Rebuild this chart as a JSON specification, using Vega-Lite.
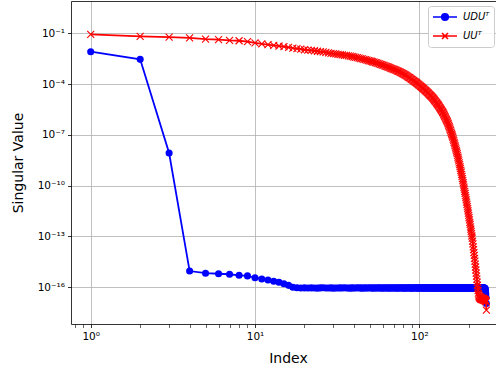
{
  "$schema": "https://vega.github.io/schema/vega-lite/v6.json",
  "width": 425,
  "height": 323,
  "autosize": {"type": "none"},
  "padding": {"left": 71, "top": 1, "right": 0, "bottom": 42},
  "background": "white",
  "config": {"view": {"stroke": null}, "font": "DejaVu Sans"},
  "datasets": {
    "udu": [
      {"k":1,"v":0.0082},{"k":2,"v":0.0029},{"k":3,"v":8.5e-9},{"k":4,"v":9.1e-16},{"k":5,"v":6.8e-16},
      {"k":6,"v":6.3e-16},{"k":7,"v":5.9e-16},{"k":8,"v":5.1e-16},{"k":9,"v":4.7e-16},{"k":10,"v":3.7e-16},
      {"k":11,"v":3.1e-16},{"k":12,"v":2.7e-16},{"k":13,"v":2.3e-16},{"k":14,"v":2.0e-16},{"k":15,"v":1.6e-16},
      {"k":16,"v":1.3e-16},{"k":17,"v":1.0e-16},{"k":18,"v":9.3e-17},{"k":19,"v":9.1e-17},{"k":20,"v":9.2e-17},
      {"k":21,"v":9.0e-17},{"k":22,"v":9.2e-17},{"k":23,"v":9.1e-17},{"k":24,"v":8.9e-17},{"k":25,"v":9.2e-17},
      {"k":26,"v":9.3e-17},{"k":27,"v":9.0e-17},{"k":28,"v":9.1e-17},{"k":29,"v":9.2e-17},{"k":30,"v":8.9e-17},
      {"k":31,"v":9.1e-17},{"k":32,"v":9.0e-17},{"k":33,"v":9.2e-17},{"k":34,"v":9.1e-17},{"k":35,"v":9.3e-17},
      {"k":36,"v":9.0e-17},{"k":37,"v":9.1e-17},{"k":38,"v":8.9e-17},{"k":39,"v":9.2e-17},{"k":40,"v":9.0e-17},
      {"k":41,"v":9.1e-17},{"k":42,"v":9.3e-17},{"k":43,"v":9.0e-17},{"k":44,"v":9.2e-17},{"k":45,"v":8.9e-17},
      {"k":46,"v":9.1e-17},{"k":47,"v":9.2e-17},{"k":48,"v":9.0e-17},{"k":49,"v":9.1e-17},{"k":50,"v":9.3e-17},
      {"k":51,"v":9.0e-17},{"k":52,"v":8.9e-17},{"k":53,"v":9.2e-17},{"k":54,"v":9.1e-17},{"k":55,"v":9.0e-17},
      {"k":56,"v":9.2e-17},{"k":57,"v":9.1e-17},{"k":58,"v":9.3e-17},{"k":59,"v":8.9e-17},{"k":60,"v":9.0e-17},
      {"k":61,"v":9.2e-17},{"k":62,"v":9.1e-17},{"k":63,"v":9.0e-17},{"k":64,"v":9.2e-17},{"k":65,"v":9.1e-17},
      {"k":66,"v":8.9e-17},{"k":67,"v":9.3e-17},{"k":68,"v":9.0e-17},{"k":69,"v":9.1e-17},{"k":70,"v":9.2e-17},
      {"k":71,"v":9.0e-17},{"k":72,"v":9.1e-17},{"k":73,"v":9.2e-17},{"k":74,"v":8.9e-17},{"k":75,"v":9.1e-17},
      {"k":76,"v":9.3e-17},{"k":77,"v":9.0e-17},{"k":78,"v":9.2e-17},{"k":79,"v":9.1e-17},{"k":80,"v":9.0e-17},
      {"k":81,"v":9.2e-17},{"k":82,"v":8.9e-17},{"k":83,"v":9.1e-17},{"k":84,"v":9.0e-17},{"k":85,"v":9.3e-17},
      {"k":86,"v":9.1e-17},{"k":87,"v":9.2e-17},{"k":88,"v":9.0e-17},{"k":89,"v":9.1e-17},{"k":90,"v":8.9e-17},
      {"k":91,"v":9.2e-17},{"k":92,"v":9.0e-17},{"k":93,"v":9.1e-17},{"k":94,"v":9.3e-17},{"k":95,"v":9.0e-17},
      {"k":96,"v":9.2e-17},{"k":97,"v":9.1e-17},{"k":98,"v":8.9e-17},{"k":99,"v":9.0e-17},{"k":100,"v":9.2e-17},
      {"k":101,"v":9.1e-17},{"k":102,"v":9.0e-17},{"k":103,"v":9.3e-17},{"k":104,"v":9.1e-17},{"k":105,"v":8.9e-17},
      {"k":106,"v":9.2e-17},{"k":107,"v":9.0e-17},{"k":108,"v":9.1e-17},{"k":109,"v":9.2e-17},{"k":110,"v":9.0e-17},
      {"k":111,"v":9.1e-17},{"k":112,"v":9.3e-17},{"k":113,"v":8.9e-17},{"k":114,"v":9.0e-17},{"k":115,"v":9.2e-17},
      {"k":116,"v":9.1e-17},{"k":117,"v":9.0e-17},{"k":118,"v":9.2e-17},{"k":119,"v":9.1e-17},{"k":120,"v":8.9e-17},
      {"k":121,"v":9.3e-17},{"k":122,"v":9.0e-17},{"k":123,"v":9.1e-17},{"k":124,"v":9.2e-17},{"k":125,"v":9.0e-17},
      {"k":126,"v":9.1e-17},{"k":127,"v":8.9e-17},{"k":128,"v":9.2e-17},{"k":129,"v":9.0e-17},{"k":130,"v":9.3e-17},
      {"k":131,"v":9.1e-17},{"k":132,"v":9.0e-17},{"k":133,"v":9.2e-17},{"k":134,"v":9.1e-17},{"k":135,"v":8.9e-17},
      {"k":136,"v":9.0e-17},{"k":137,"v":9.2e-17},{"k":138,"v":9.1e-17},{"k":139,"v":9.3e-17},{"k":140,"v":9.0e-17},
      {"k":141,"v":9.1e-17},{"k":142,"v":9.2e-17},{"k":143,"v":8.9e-17},{"k":144,"v":9.0e-17},{"k":145,"v":9.1e-17},
      {"k":146,"v":9.2e-17},{"k":147,"v":9.0e-17},{"k":148,"v":9.3e-17},{"k":149,"v":9.1e-17},{"k":150,"v":8.9e-17},
      {"k":151,"v":9.2e-17},{"k":152,"v":9.0e-17},{"k":153,"v":9.1e-17},{"k":154,"v":9.2e-17},{"k":155,"v":9.0e-17},
      {"k":156,"v":9.1e-17},{"k":157,"v":9.3e-17},{"k":158,"v":8.9e-17},{"k":159,"v":9.0e-17},{"k":160,"v":9.2e-17},
      {"k":161,"v":9.1e-17},{"k":162,"v":9.0e-17},{"k":163,"v":9.2e-17},{"k":164,"v":8.9e-17},{"k":165,"v":9.1e-17},
      {"k":166,"v":9.3e-17},{"k":167,"v":9.0e-17},{"k":168,"v":9.1e-17},{"k":169,"v":9.2e-17},{"k":170,"v":9.0e-17},
      {"k":171,"v":9.1e-17},{"k":172,"v":8.9e-17},{"k":173,"v":9.2e-17},{"k":174,"v":9.0e-17},{"k":175,"v":9.3e-17},
      {"k":176,"v":9.1e-17},{"k":177,"v":9.0e-17},{"k":178,"v":9.2e-17},{"k":179,"v":9.1e-17},{"k":180,"v":8.9e-17},
      {"k":181,"v":9.0e-17},{"k":182,"v":9.2e-17},{"k":183,"v":9.1e-17},{"k":184,"v":9.3e-17},{"k":185,"v":9.0e-17},
      {"k":186,"v":9.1e-17},{"k":187,"v":9.2e-17},{"k":188,"v":8.9e-17},{"k":189,"v":9.0e-17},{"k":190,"v":9.1e-17},
      {"k":191,"v":9.2e-17},{"k":192,"v":9.0e-17},{"k":193,"v":9.3e-17},{"k":194,"v":9.1e-17},{"k":195,"v":8.9e-17},
      {"k":196,"v":9.2e-17},{"k":197,"v":9.0e-17},{"k":198,"v":9.1e-17},{"k":199,"v":9.2e-17},{"k":200,"v":9.0e-17},
      {"k":201,"v":9.1e-17},{"k":202,"v":9.3e-17},{"k":203,"v":8.9e-17},{"k":204,"v":9.0e-17},{"k":205,"v":9.2e-17},
      {"k":206,"v":9.1e-17},{"k":207,"v":9.0e-17},{"k":208,"v":9.2e-17},{"k":209,"v":8.9e-17},{"k":210,"v":9.1e-17},
      {"k":211,"v":9.3e-17},{"k":212,"v":9.0e-17},{"k":213,"v":9.1e-17},{"k":214,"v":9.2e-17},{"k":215,"v":9.0e-17},
      {"k":216,"v":9.1e-17},{"k":217,"v":8.9e-17},{"k":218,"v":9.2e-17},{"k":219,"v":9.0e-17},{"k":220,"v":9.3e-17},
      {"k":221,"v":9.1e-17},{"k":222,"v":9.0e-17},{"k":223,"v":9.2e-17},{"k":224,"v":9.1e-17},{"k":225,"v":8.9e-17},
      {"k":226,"v":9.0e-17},{"k":227,"v":9.2e-17},{"k":228,"v":9.1e-17},{"k":229,"v":9.3e-17},{"k":230,"v":9.0e-17},
      {"k":231,"v":9.1e-17},{"k":232,"v":9.2e-17},{"k":233,"v":8.9e-17},{"k":234,"v":9.0e-17},{"k":235,"v":9.1e-17},
      {"k":236,"v":9.2e-17},{"k":237,"v":9.0e-17},{"k":238,"v":9.3e-17},{"k":239,"v":9.1e-17},{"k":240,"v":8.9e-17},
      {"k":241,"v":9.2e-17},{"k":242,"v":9.0e-17},{"k":243,"v":9.1e-17},{"k":244,"v":9.2e-17},{"k":245,"v":9.0e-17},
      {"k":246,"v":9.1e-17},{"k":247,"v":9.3e-17},{"k":248,"v":8.9e-17},{"k":249,"v":9.0e-17},{"k":250,"v":9.0e-17},
      {"k":251,"v":8.7e-17},{"k":252,"v":8.1e-17},{"k":253,"v":6.0e-17},{"k":254,"v":4.0e-17},{"k":255,"v":2.5e-17},
      {"k":256,"v":1.1e-17}
    ],
    "uu": [
      {"k":1,"v":0.0871},{"k":2,"v":0.0661},{"k":3,"v":0.0603},{"k":4,"v":0.0537},{"k":5,"v":0.0457},
      {"k":6,"v":0.0427},{"k":7,"v":0.0380},{"k":8,"v":0.0363},{"k":9,"v":0.0324},{"k":10,"v":0.0275},
      {"k":11,"v":0.0240},{"k":12,"v":0.0214},{"k":13,"v":0.0195},{"k":14,"v":0.0178},{"k":15,"v":0.0162},
      {"k":16,"v":0.0148},{"k":17,"v":0.0135},{"k":18,"v":0.0126},{"k":19,"v":0.0115},{"k":20,"v":0.0107},
      {"k":21,"v":0.0102},{"k":22,"v":0.00977},{"k":23,"v":0.00933},{"k":24,"v":0.00871},{"k":25,"v":0.00832},
      {"k":26,"v":0.00794},{"k":27,"v":0.00741},{"k":28,"v":0.00708},{"k":29,"v":0.00661},{"k":30,"v":0.00631},
      {"k":31,"v":0.00603},{"k":32,"v":0.00575},{"k":33,"v":0.00550},{"k":34,"v":0.00525},{"k":35,"v":0.00501},
      {"k":36,"v":0.00490},{"k":37,"v":0.00468},{"k":38,"v":0.00447},{"k":39,"v":0.00427},{"k":40,"v":0.00398},
      {"k":41,"v":0.00380},{"k":42,"v":0.00363},{"k":43,"v":0.00347},{"k":44,"v":0.00324},{"k":45,"v":0.00309},
      {"k":46,"v":0.00288},{"k":47,"v":0.00275},{"k":48,"v":0.00257},{"k":49,"v":0.00245},{"k":50,"v":0.00234},
      {"k":51,"v":0.00224},{"k":52,"v":0.00209},{"k":53,"v":0.00200},{"k":54,"v":0.00186},{"k":55,"v":0.00178},
      {"k":56,"v":0.00166},{"k":57,"v":0.00158},{"k":58,"v":0.00148},{"k":59,"v":0.00141},{"k":60,"v":0.00132},
      {"k":61,"v":0.00126},{"k":62,"v":0.00117},{"k":63,"v":0.00112},{"k":64,"v":0.00105},{"k":65,"v":0.00100},
      {"k":66,"v":9.33e-4},{"k":67,"v":8.91e-4},{"k":68,"v":8.32e-4},{"k":69,"v":7.94e-4},{"k":70,"v":7.41e-4},
      {"k":71,"v":7.08e-4},{"k":72,"v":6.61e-4},{"k":73,"v":6.31e-4},{"k":74,"v":5.89e-4},{"k":75,"v":5.62e-4},
      {"k":76,"v":5.25e-4},{"k":77,"v":4.90e-4},{"k":78,"v":4.57e-4},{"k":79,"v":4.27e-4},{"k":80,"v":3.98e-4},
      {"k":81,"v":3.72e-4},{"k":82,"v":3.47e-4},{"k":83,"v":3.24e-4},{"k":84,"v":3.02e-4},{"k":85,"v":2.75e-4},
      {"k":86,"v":2.57e-4},{"k":87,"v":2.40e-4},{"k":88,"v":2.24e-4},{"k":89,"v":2.04e-4},{"k":90,"v":1.91e-4},
      {"k":91,"v":1.78e-4},{"k":92,"v":1.62e-4},{"k":93,"v":1.51e-4},{"k":94,"v":1.38e-4},{"k":95,"v":1.29e-4},
      {"k":96,"v":1.20e-4},{"k":97,"v":1.10e-4},{"k":98,"v":1.02e-4},{"k":99,"v":9.33e-5},{"k":100,"v":8.71e-5},
      {"k":101,"v":8.13e-5},{"k":102,"v":7.41e-5},{"k":103,"v":6.92e-5},{"k":104,"v":6.31e-5},{"k":105,"v":5.75e-5},
      {"k":106,"v":5.37e-5},{"k":107,"v":4.90e-5},{"k":108,"v":4.57e-5},{"k":109,"v":4.17e-5},{"k":110,"v":3.89e-5},
      {"k":111,"v":3.55e-5},{"k":112,"v":3.24e-5},{"k":113,"v":3.02e-5},{"k":114,"v":2.75e-5},{"k":115,"v":2.51e-5},
      {"k":116,"v":2.34e-5},{"k":117,"v":2.14e-5},{"k":118,"v":1.95e-5},{"k":119,"v":1.82e-5},{"k":120,"v":1.66e-5},
      {"k":121,"v":1.51e-5},{"k":122,"v":1.35e-5},{"k":123,"v":1.23e-5},{"k":124,"v":1.10e-5},{"k":125,"v":1.00e-5},
      {"k":126,"v":9.12e-6},{"k":127,"v":8.13e-6},{"k":128,"v":7.41e-6},{"k":129,"v":6.61e-6},{"k":130,"v":6.03e-6},
      {"k":131,"v":5.37e-6},{"k":132,"v":4.79e-6},{"k":133,"v":4.27e-6},{"k":134,"v":3.80e-6},{"k":135,"v":3.39e-6},
      {"k":136,"v":3.02e-6},{"k":137,"v":2.69e-6},{"k":138,"v":2.40e-6},{"k":139,"v":2.14e-6},{"k":140,"v":1.91e-6},
      {"k":141,"v":1.66e-6},{"k":142,"v":1.41e-6},{"k":143,"v":1.23e-6},{"k":144,"v":1.07e-6},{"k":145,"v":9.12e-7},
      {"k":146,"v":7.94e-7},{"k":147,"v":6.92e-7},{"k":148,"v":6.03e-7},{"k":149,"v":5.13e-7},{"k":150,"v":4.47e-7},
      {"k":151,"v":3.72e-7},{"k":152,"v":3.09e-7},{"k":153,"v":2.57e-7},{"k":154,"v":2.14e-7},{"k":155,"v":1.78e-7},
      {"k":156,"v":1.48e-7},{"k":157,"v":1.23e-7},{"k":158,"v":1.02e-7},{"k":159,"v":8.51e-8},{"k":160,"v":7.08e-8},
      {"k":161,"v":5.62e-8},{"k":162,"v":4.57e-8},{"k":163,"v":3.63e-8},{"k":164,"v":2.95e-8},{"k":165,"v":2.34e-8},
      {"k":166,"v":1.91e-8},{"k":167,"v":1.51e-8},{"k":168,"v":1.23e-8},{"k":169,"v":9.77e-9},{"k":170,"v":7.94e-9},
      {"k":171,"v":6.17e-9},{"k":172,"v":4.79e-9},{"k":173,"v":3.72e-9},{"k":174,"v":2.88e-9},{"k":175,"v":2.24e-9},
      {"k":176,"v":1.74e-9},{"k":177,"v":1.35e-9},{"k":178,"v":1.05e-9},{"k":179,"v":8.13e-10},{"k":180,"v":6.31e-10},
      {"k":181,"v":4.68e-10},{"k":182,"v":3.55e-10},{"k":183,"v":2.63e-10},{"k":184,"v":2.00e-10},{"k":185,"v":1.48e-10},
      {"k":186,"v":1.12e-10},{"k":187,"v":8.32e-11},{"k":188,"v":6.31e-11},{"k":189,"v":4.68e-11},{"k":190,"v":3.55e-11},
      {"k":191,"v":2.63e-11},{"k":192,"v":1.95e-11},{"k":193,"v":1.45e-11},{"k":194,"v":1.07e-11},{"k":195,"v":7.94e-12},
      {"k":196,"v":5.89e-12},{"k":197,"v":4.37e-12},{"k":198,"v":3.24e-12},{"k":199,"v":2.40e-12},{"k":200,"v":1.78e-12},
      {"k":201,"v":1.29e-12},{"k":202,"v":9.55e-13},{"k":203,"v":6.92e-13},{"k":204,"v":5.13e-13},{"k":205,"v":3.72e-13},
      {"k":206,"v":2.75e-13},{"k":207,"v":2.00e-13},{"k":208,"v":1.48e-13},{"k":209,"v":1.07e-13},{"k":210,"v":7.94e-14},
      {"k":211,"v":5.37e-14},{"k":212,"v":3.63e-14},{"k":213,"v":2.45e-14},{"k":214,"v":1.66e-14},{"k":215,"v":1.12e-14},
      {"k":216,"v":7.59e-15},{"k":217,"v":5.13e-15},{"k":218,"v":3.47e-15},{"k":219,"v":2.34e-15},{"k":220,"v":1.58e-15},
      {"k":221,"v":1.05e-15},{"k":222,"v":6.92e-16},{"k":223,"v":4.57e-16},{"k":224,"v":3.02e-16},{"k":225,"v":2.00e-16},
      {"k":226,"v":1.32e-16},{"k":227,"v":8.91e-17},{"k":228,"v":6.31e-17},{"k":229,"v":4.47e-17},{"k":230,"v":3.55e-17},
      {"k":231,"v":3.0e-17},{"k":232,"v":2.6e-17},{"k":233,"v":2.4e-17},{"k":234,"v":2.7e-17},{"k":235,"v":2.2e-17},
      {"k":236,"v":2.3e-17},{"k":237,"v":2.0e-17},{"k":238,"v":2.5e-17},{"k":239,"v":2.1e-17},{"k":240,"v":1.9e-17},
      {"k":241,"v":2.2e-17},{"k":242,"v":2.0e-17},{"k":243,"v":1.8e-17},{"k":244,"v":2.3e-17},{"k":245,"v":1.9e-17},
      {"k":246,"v":2.1e-17},{"k":247,"v":1.7e-17},{"k":248,"v":2.0e-17},{"k":249,"v":1.8e-17},{"k":250,"v":1.9e-17},
      {"k":251,"v":1.6e-17},{"k":252,"v":1.8e-17},{"k":253,"v":1.7e-17},{"k":254,"v":1.5e-17},{"k":255,"v":1.4e-17},
      {"k":256,"v":4.5e-18}
    ]
  },
  "encoding": {
    "x": {
      "field": "k",
      "type": "quantitative",
      "scale": {"type": "log", "domain": [0.7586, 293.0], "nice": false, "zero": false},
      "axis": {
        "title": "Index",
        "titleFontSize": 14,
        "titleFontWeight": "normal",
        "titleColor": "black",
        "titleBaseline": "alphabetic",
        "titleX": 217,
        "titleY": 38,
        "values": [0.8, 0.9, 1, 2, 3, 4, 5, 6, 7, 8, 9, 10, 20, 30, 40, 50, 60, 70, 80, 90, 100, 200],
        "labelExpr": "datum.value == 1 ? '10⁰' : datum.value == 10 ? '10¹' : datum.value == 100 ? '10²' : ''",
        "labelFontSize": 10.5,
        "labelColor": "black",
        "labelBaseline": "top",
        "labelPadding": 4,
        "labelFlush": false,
        "labelOverlap": false,
        "tickColor": "black",
        "tickSize": 3.5,
        "tickWidth": {"condition": {"test": "indexof([1, 10, 100], datum.value) >= 0", "value": 0.8}, "value": 0.6},
        "domainColor": "black",
        "domainWidth": 0.8,
        "grid": true,
        "gridColor": "#b0b0b0",
        "gridWidth": 0.8,
        "gridOpacity": {"condition": {"test": "indexof([1, 10, 100], datum.value) >= 0", "value": 1}, "value": 0}
      }
    },
    "y": {
      "field": "v",
      "type": "quantitative",
      "scale": {"type": "log", "domain": [6.79e-19, 8.09], "nice": false, "zero": false},
      "axis": {
        "title": "Singular Value",
        "titleFontSize": 14,
        "titleFontWeight": "normal",
        "titleColor": "black",
        "titleBaseline": "alphabetic",
        "titleX": -49,
        "titleY": 161.5,
        "values": [1e-16, 1e-13, 1e-10, 1e-7, 1e-4, 0.1, 8.09],
        "labelExpr": "datum.value > 1 ? '' : datum.value > 0.01 ? '10⁻¹' : datum.value > 1e-5 ? '10⁻⁴' : datum.value > 1e-8 ? '10⁻⁷' : datum.value > 1e-11 ? '10⁻¹⁰' : datum.value > 1e-14 ? '10⁻¹³' : '10⁻¹⁶'",
        "labelFontSize": 10.5,
        "labelColor": "black",
        "labelPadding": 3,
        "labelFlush": false,
        "labelOverlap": false,
        "tickColor": "black",
        "tickSize": 3.5,
        "tickWidth": 0.8,
        "tickOpacity": {"condition": {"test": "datum.value > 1", "value": 0}, "value": 1},
        "domainColor": "black",
        "domainWidth": 0.8,
        "grid": true,
        "gridColor": {"condition": {"test": "datum.value > 1", "value": "black"}, "value": "#b0b0b0"},
        "gridWidth": 0.8
      }
    }
  },
  "layer": [
    {
      "data": {"name": "udu"},
      "mark": {"type": "line", "strokeWidth": 1.8, "clip": true},
      "encoding": {
        "color": {
          "datum": "UDUᵀ",
          "type": "nominal",
          "scale": {"domain": ["UDUᵀ", "UUᵀ"], "range": ["#0000ff", "#ff0000"]},
          "legend": {
            "title": null,
            "orient": "none",
            "legendX": 357,
            "legendY": 5,
            "padding": 4,
            "fillColor": "rgba(255,255,255,0.8)",
            "strokeColor": "#cccccc",
            "cornerRadius": 3,
            "symbolSize": 144,
            "symbolStrokeWidth": 1.8,
            "symbolOffset": 6,
            "labelOffset": 11,
            "rowPadding": 5,
            "labelFont": "DejaVu Sans",
            "labelFontSize": 10,
            "labelFontStyle": "italic",
            "labelColor": "black",
            "encode": {
              "symbols": {
                "update": {
                  "shape": {"signal": "datum.value === 'UDUᵀ' ? 'M-2,0L2,0M-0.55,0A0.55,0.55,0,1,1,0.55,0A0.55,0.55,0,1,1,-0.55,0Z' : 'M-2,0L2,0M-0.5,-0.5L0.5,0.5M-0.5,0.5L0.5,-0.5'"},
                  "fill": {"signal": "datum.value === 'UDUᵀ' ? '#0000ff' : 'transparent'"},
                  "stroke": {"signal": "datum.value === 'UDUᵀ' ? '#0000ff' : '#ff0000'"},
                  "strokeWidth": {"value": 1.6},
                  "opacity": {"value": 1}
                }
              }
            }
          }
        }
      }
    },
    {
      "data": {"name": "udu"},
      "mark": {"type": "point", "shape": "circle", "filled": true, "size": 50, "color": "#0000ff", "opacity": 1, "clip": true}
    },
    {
      "data": {"name": "uu"},
      "mark": {"type": "line", "strokeWidth": 1.8, "clip": true},
      "encoding": {
        "color": {"datum": "UUᵀ", "type": "nominal"}
      }
    },
    {
      "data": {"name": "uu"},
      "mark": {"type": "point", "shape": "M-1,-1L1,1M-1,1L1,-1", "filled": false, "size": 49, "color": "#ff0000", "strokeWidth": 1.1, "opacity": 1, "clip": true}
    }
  ]
}
